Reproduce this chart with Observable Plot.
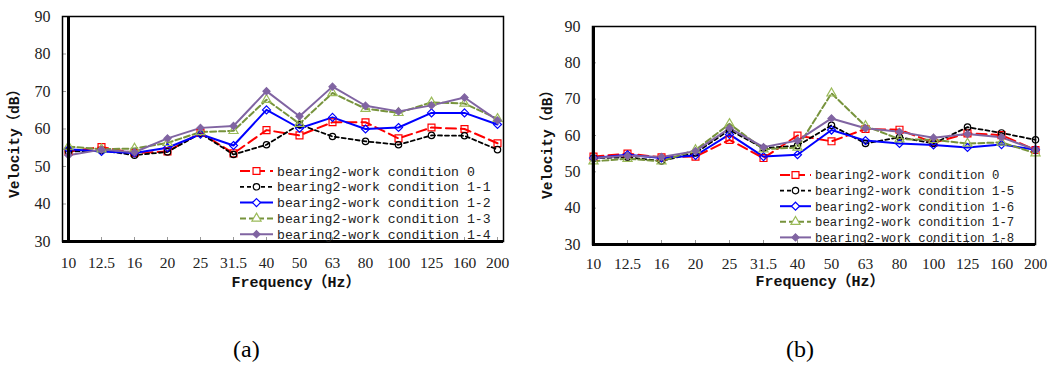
<!DOCTYPE html>
<html><head><meta charset="utf-8">
<script src="https://cdn.jsdelivr.net/npm/d3@7"></script>
<script src="https://cdn.jsdelivr.net/npm/@observablehq/plot@0.6"></script>
<style>
body{margin:0;background:#fff;width:1052px;height:365px;overflow:hidden;position:relative}
.panel{position:absolute;top:0}
.cap{position:absolute;font-family:"Liberation Serif",serif;font-size:24px;top:334px;line-height:30px}
</style></head><body>
<div id="pa" class="panel" style="left:0"></div>
<div id="pb" class="panel" style="left:530px"></div>
<div class="cap" style="left:233px">(a)</div>
<div class="cap" style="left:786px">(b)</div>
<script>
const freqs = ["10","12.5","16","20","25","31.5","40","50","63","80","100","125","160","200"];
const yTicks = [30,40,50,60,70,80,90];
const xLabelParts = ["Frequency", "（", "Hz", "）"];
const yLabelParts = ["Velocity", "（", "dB", "）"];

const namesA = ["bearing2-work condition 0","bearing2-work condition 1-1","bearing2-work condition 1-2","bearing2-work condition 1-3","bearing2-work condition 1-4"];
const a_c0  = [54, 55.2, 53.6, 54, 59, 53.5, 59.7, 58.3, 61.8, 61.8, 57.5, 60.4, 60, 56.2];
const a_c11 = [54, 54.3, 53, 53.9, 58.8, 53.2, 55.8, 61.2, 58, 56.7, 55.8, 58.3, 58.2, 54.5];
const a_c12 = [54.6, 54, 53.6, 55, 58.6, 55.6, 65.1, 60.2, 63.1, 60, 60.4, 64.3, 64.3, 61.2];
const a_c13 = [55.3, 54.6, 54.8, 56.3, 59.2, 59.5, 67.8, 61.4, 69.6, 65.4, 64.3, 67.1, 66.8, 62.7];
const a_c14 = [53, 54.5, 53.8, 57.5, 60.3, 60.8, 70.1, 63.4, 71.3, 66.2, 64.7, 66.3, 68.4, 62.3];

const namesB = ["bearing2-work condition 0","bearing2-work condition 1-5","bearing2-work condition 1-6","bearing2-work condition 1-7","bearing2-work condition 1-8"];
const b_c0  = [54.2, 55, 54, 54.2, 58.8, 53.8, 60, 58.4, 61.8, 61.6, 58, 60.6, 60.1, 56];
const b_c15 = [53.8, 54, 53, 55.2, 61.5, 56.5, 57.2, 62.8, 57.8, 59.5, 57.8, 62.3, 60.7, 58.8];
const b_c16 = [53.8, 54.7, 53.8, 54.5, 60.3, 54.2, 54.7, 61.5, 58.6, 57.8, 57.4, 56.7, 57.5, 56.1];
const b_c17 = [52.9, 53.6, 52.9, 56, 63.2, 56.2, 56.7, 71.6, 62.6, 59, 58.8, 57.8, 58.1, 55.1];
const b_c18 = [53.8, 54.4, 54.1, 55.7, 62, 56.8, 58.6, 64.7, 62, 61, 59.4, 60.4, 59.5, 56.1];

const styles = [
  {color:"#ff0000", mstroke:"#ff0000", dash:"10,5", w:2, symbol:"square", r:3.9, fill:"none"},
  {color:"#000000", mstroke:"#000000", dash:"4,3", w:1.8, symbol:"circle", r:3.2, fill:"none"},
  {color:"#0000ff", mstroke:"#0000ff", dash:null, w:2, symbol:"diamond2", r:3.6, fill:"none"},
  {color:"#77933c", mstroke:"#9bbb59", dash:"6,3", w:2, symbol:"triangle", r:3.4, fill:"none"},
  {color:"#8064a2", mstroke:"#8064a2", dash:null, w:2, symbol:"diamond2", r:3.2, fill:"#8064a2"}
];
const symMap = {square:d3.symbolSquare, circle:d3.symbolCircle, diamond2:d3.symbolDiamond2, triangle:d3.symbolTriangle};

function addLabel(g, parts, x, y, rotate, size) {
  const t = g.append("text").attr("transform", `translate(${x},${y}) rotate(${rotate})`)
    .attr("text-anchor","middle").attr("dy","0.35em")
    .attr("font-family","'Liberation Mono', monospace").attr("font-weight","bold")
    .attr("font-size", size).attr("fill","#111");
  parts.forEach((p,i)=>{
    const s = t.append("tspan").text(p);
    if (i % 2 === 1) s.attr("font-family","'Noto Sans CJK TC', sans-serif");
  });
}

function panel(el, o) {
  const values = o.values;
  const data = values.flatMap((vals,i)=> freqs.map((f,j)=>({f, v: vals[j], s: i})));
  const plotW = o.width - o.ml - o.mr, plotH = o.height - o.mt - o.mb;
  const marks = [
    Plot.tickY(yTicks, {y: d=>d, insetRight: plotW - 4, stroke:"#999", strokeWidth:1}),
    Plot.tickX(freqs, {x: d=>d, insetTop: plotH - 4, stroke:"#999", strokeWidth:1}),
    Plot.axisY({ticks: yTicks, tickSize: 0, tickPadding: o.yPad, label: null, fontSize: 16}),
    Plot.axisX({tickSize: 0, tickPadding: o.xPad, label: null, fontSize: 15.5}),
  ];
  styles.forEach((st,i)=>{
    const d = data.filter(r=>r.s===i);
    marks.push(Plot.line(d,{x:"f",y:"v",stroke:st.color,strokeWidth:st.w,strokeDasharray:st.dash}));
  });
  styles.forEach((st,i)=>{
    const d = data.filter(r=>r.s===i);
    marks.push(Plot.dot(d,{x:"f",y:"v",symbol:()=>st.symbol,r:st.r,stroke:st.mstroke,fill:st.fill,strokeWidth:1.2}));
  });
  marks.push(Plot.frame({stroke:"#000", strokeWidth:1.5}));
  marks.push(Plot.ruleX([freqs[0]], {stroke:"#000", strokeWidth:3}));
  marks.push(Plot.ruleY([30], {stroke:"#000", strokeWidth:3}));
  const svg = Plot.plot({
    width:o.width, height:o.height,
    marginLeft:o.ml, marginRight:o.mr, marginTop:o.mt, marginBottom:o.mb,
    x:{type:"point", domain:freqs, padding:0},
    y:{domain:[30,90]},
    style:{fontFamily:"'Liberation Serif', serif", fontSize:"16px", color:"#222", background:"#fff", overflow:"visible"},
    marks
  });
  const root = d3.select(svg);
  const lg = root.append("g");
  addLabel(lg, xLabelParts, o.xlX, o.xlY, 0, 15);
  addLabel(lg, yLabelParts, o.ylX, o.ylY, -90, 14.5);
  // legend
  const g = root.append("g").attr("text-anchor","start");
  o.names.forEach((n,i)=>{
    const st = styles[i];
    const y = o.legY + i*o.legStep;
    g.append("line").attr("x1",o.legX).attr("x2",o.legX+o.legLen).attr("y1",y).attr("y2",y)
      .attr("stroke",st.color).attr("stroke-width",st.w).attr("stroke-dasharray",st.dash);
    g.append("path").attr("d", d3.symbol(symMap[st.symbol], Math.PI*st.r*st.r)())
      .attr("transform",`translate(${o.legX+o.legLen/2},${y})`)
      .attr("stroke",st.mstroke).attr("fill",st.fill==="none"?"#fff":st.fill).attr("stroke-width",1.2);
    g.append("text").attr("x",o.legX+o.legLen+4).attr("y",y).attr("dy","0.35em")
      .attr("text-anchor","start")
      .attr("font-family","'Liberation Mono', monospace").attr("font-size",o.legFont).attr("fill","#222")
      .text(n);
  });
  document.getElementById(el).appendChild(svg);
}

panel("pa", {width:526, height:300, ml:62, mr:23, mt:16, mb:59, yPad:12, xPad:15,
  xlX:296, xlY:282, ylX:14, ylY:140,
  names:namesA, values:[a_c0,a_c11,a_c12,a_c13,a_c14], legX:240, legLen:33, legY:171, legStep:15.8, legFont:13.2});
panel("pb", {width:522, height:300, ml:62, mr:17, mt:26, mb:56, yPad:12, xPad:13,
  xlX:290, xlY:281, ylX:17, ylY:141,
  names:namesB, values:[b_c0,b_c15,b_c16,b_c17,b_c18], legX:250, legLen:31, legY:175, legStep:15.6, legFont:12.3});
</script>
</body></html>
